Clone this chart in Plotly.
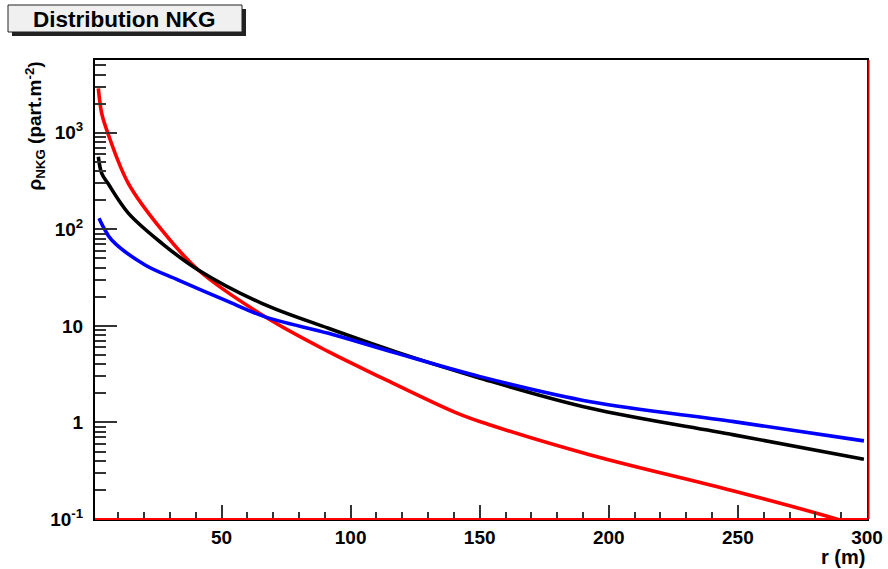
import plotly.graph_objects as go

# ---------------- data ----------------
r_red = [2.3, 3.6, 6.0, 13.9, 26.9, 41.0, 66.9, 91.4, 112.1, 141.2, 154.1, 192.9, 248.4, 287.2, 300.0]
rho_red = [2884, 1590, 986, 299, 98, 37.9, 12.4, 5.4, 2.9, 1.25, 0.94, 0.46, 0.195, 0.102, 0.08]

r_black = [2.3, 3.6, 6.0, 13.9, 26.9, 41.0, 65.6, 91.4, 117.3, 150.2, 192.9, 248.4, 298.8]
rho_black = [565, 380, 299, 147, 71.6, 37.9, 17.1, 9.45, 5.41, 2.87, 1.40, 0.743, 0.416]

r_blue = [2.55, 4.2, 7.47, 20.4, 33.3, 52.7, 66.9, 91.4, 117.3, 150.2, 192.9, 248.4, 298.8]
rho_blue = [130, 106, 77.4, 42.7, 29.8, 17.8, 12.4, 8.37, 5.25, 2.98, 1.64, 1.02, 0.644]

x_ticks = [50, 100, 150, 200, 250, 300]
x_ticklabels = ["50", "100", "150", "200", "250", "300"]
y_ticks = [0.1, 1, 10, 100, 1000]
y_ticklabels = ["10<sup>-1</sup>", "1", "10", "10<sup>2</sup>", "10<sup>3</sup>"]

title_text = "Distribution NKG"
x_title = "r (m)"
y_title = "ρ<sub>NKG</sub> (part.m<sup>-2</sup>)"

# ---------------- layout geometry ----------------
W, H = 888, 569
L, R, T, B = 95, 867, 60, 519
pw, ph = R - L, B - T


def px(xp):
    return (xp - L) / pw


def py(yp):
    return (B - yp) / ph


FONT = "Liberation Sans, Arial, Helvetica, sans-serif"

fig = go.Figure()
for xs, ys, col in [(r_red, rho_red, "#ff0000"), (r_black, rho_black, "#000000"), (r_blue, rho_blue, "#0000ff")]:
    fig.add_trace(go.Scatter(x=xs, y=ys, mode="lines",
                             line=dict(color=col, width=3.6, shape="spline", smoothing=1.0),
                             showlegend=False, hoverinfo="skip"))

minor_y = [m * 10 ** e for e in range(-1, 4) for m in range(2, 10)]

fig.update_layout(
    width=W, height=H, autosize=False,
    margin=dict(l=L, r=W - R, t=T, b=H - B, pad=0, autoexpand=False),
    paper_bgcolor="white", plot_bgcolor="white",
    font=dict(family=FONT, color="black"),
    xaxis=dict(range=[1, 300], showgrid=False, zeroline=False, automargin=False,
               showline=True, linecolor="black", linewidth=2, mirror=True,
               tickmode="array", tickvals=x_ticks, ticktext=x_ticklabels,
               ticks="inside", ticklen=14, tickwidth=1.5, tickcolor="#333",
               tickfont=dict(family=FONT, size=19, weight="bold"),
               minor=dict(ticks="inside", ticklen=7, tickwidth=1.5, tickcolor="#333", dtick=10, tick0=0, showgrid=False)),
    yaxis=dict(type="log", range=[-1, 3.753], showgrid=False, zeroline=False, automargin=False,
               showline=True, linecolor="black", linewidth=2, mirror=True,
               tickmode="array", tickvals=y_ticks, ticktext=y_ticklabels,
               ticks="inside", ticklen=22, tickwidth=1.5, tickcolor="#333",
               ticklabelstandoff=6,
               tickfont=dict(family=FONT, size=19, weight="bold"),
               minor=dict(ticks="inside", ticklen=11, tickwidth=1.5, tickcolor="#333",
                          tickvals=minor_y, showgrid=False)),
    shapes=[
        # red edges of the red histogram frame
        dict(type="line", xref="paper", yref="paper", x0=0, x1=1, y0=0, y1=0,
             line=dict(color="#ff0000", width=2), layer="above"),
        dict(type="line", xref="paper", yref="paper", x0=px(R + 1.5), x1=px(R + 1.5), y0=0, y1=1,
             line=dict(color="#cc0000", width=2), layer="above"),
        # title box shadow and box
        dict(type="rect", xref="paper", yref="paper", x0=px(12), x1=px(246), y0=py(36), y1=py(9),
             fillcolor="#222", line=dict(width=0), layer="above"),
        dict(type="rect", xref="paper", yref="paper", x0=px(8), x1=px(242), y0=py(32), y1=py(5),
             fillcolor="#f0f0f0", line=dict(color="#222", width=1), layer="above"),
    ],
    annotations=[
        dict(text="<b>" + title_text + "</b>", xref="paper", yref="paper", x=px(124), y=py(19),
             xanchor="center", yanchor="middle", showarrow=False,
             font=dict(family=FONT, size=22.5, color="black")),
        dict(text="<b>" + x_title + "</b>", xref="paper", yref="paper", x=px(867), y=py(557),
             xanchor="right", yanchor="middle", showarrow=False,
             font=dict(family=FONT, size=20, color="black")),
        dict(text="<b>" + y_title + "</b>", xref="paper", yref="paper", x=px(35), y=1,
             xanchor="center", yanchor="top", textangle=-90, showarrow=False,
             font=dict(family=FONT, size=19, color="black")),
    ],
)

fig.write_html("out.html", config={"displayModeBar": False},
               post_script="document.body.style.margin='0';")
